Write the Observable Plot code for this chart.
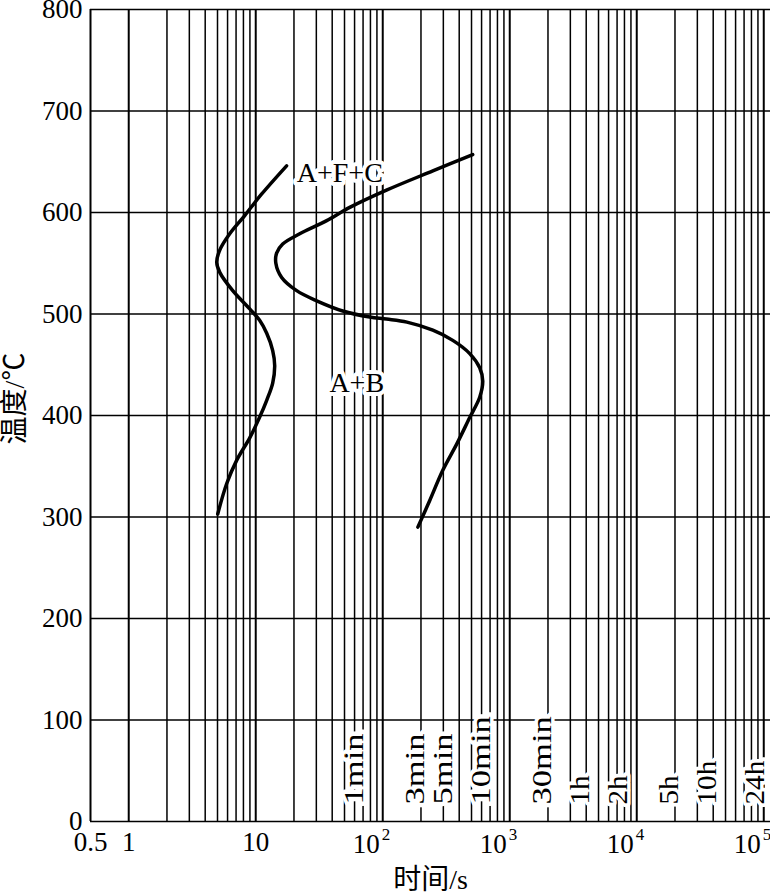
<!DOCTYPE html>
<html><head><meta charset="utf-8">
<script src="https://cdn.jsdelivr.net/npm/d3@7"></script>
<script src="https://cdn.jsdelivr.net/npm/@observablehq/plot@0.6"></script>
<style>
html,body{margin:0;padding:0;background:#fff;}
#chart svg{display:block;}
</style>
</head><body>
<div id="chart"></div>
<script>
// ---- data ----
const tempTicks = [0, 100, 200, 300, 400, 500, 600, 700, 800];
const plainTicks = [0.5, 1, 10];
const plainTickLabels = ["0.5", "1", "10"];
const powerTicks = [100, 1000, 10000, 100000];
const powerBase = ["10", "10", "10", "10"];
const powerExp = ["2", "3", "4", "5"];
const gridMultipliers = [1, 2, 3, 4, 5, 6, 7, 8, 9];
const gridDecades = [1, 10, 100, 1000, 10000];
const timeMarks = [60, 180, 300, 600, 1800, 3600, 7200, 18000, 36000, 86400];
const timeLabels = ["1min", "3min", "5min", "10min", "30min", "1h", "2h", "5h", "10h", "24h"];

// left curve (A+F+C start)
const pearliteTime = [17.5, 11.1, 8.19, 6.24, 5.21, 4.93, 5.21, 6.59, 8.97, 10.7, 12.2, 13.6, 14.1, 13.6, 12.2, 10.7, 8.97, 7.09, 5.91, 5.02];
const pearliteTemp = [646, 618, 597, 579, 563, 551, 541, 523, 505, 494, 481, 464, 449, 432, 415, 398, 378, 356, 333, 303];
// right curve
const finishTime = [511, 248, 107, 55.0, 36.2, 22.2, 16.3, 14.6, 14.4, 16.0, 21.0, 30.2, 48.4, 79.0, 107, 155, 248, 356, 484, 580, 613, 580, 484, 383, 297, 234, 189];
const finishTemp = [657, 641, 622, 605, 592, 579, 569, 560, 550, 536, 523, 513, 503, 497, 495, 492, 484, 474, 461, 447, 434, 418, 398, 372, 346, 316, 290];

const phaseLabels = ["A+F+C", "A+B"];
const phaseTime = [45.9, 62.4];
const phaseTemp = [639, 432];

const xTitle = "时间/s";
const yTitle = "温度/℃";

// ---- derived ----
const gridX = gridDecades.flatMap(d => gridMultipliers.map(m => m * d)).concat([100000]);
const gridMajor = gridX.filter(v => Math.abs(Math.log10(v) - Math.round(Math.log10(v))) < 1e-9);
const gridMinor = gridX.filter(v => !gridMajor.includes(v));
const idx = a => d3.range(a.length);

const chart = Plot.plot({
  width: 770,
  height: 895,
  marginLeft: 90,
  marginRight: 0,
  marginTop: 9,
  marginBottom: 74,
  x: {type: "log", domain: [0.5, 113000], axis: null},
  y: {domain: [0, 800], axis: null},
  style: {fontFamily: "'Liberation Serif', 'Noto Sans CJK SC', serif", background: "#fff", color: "#000"},
  marks: [
    Plot.ruleX(gridMinor, {x: d => d, stroke: "#000", strokeWidth: 1.5}),
    Plot.ruleX(gridMajor, {x: d => d, stroke: "#000", strokeWidth: 2}),
    Plot.ruleX([0.5], {x: d => d, stroke: "#000", strokeWidth: 2}),
    Plot.ruleY(tempTicks, {y: d => d, stroke: "#000", strokeWidth: 1.6}),
    // curves
    Plot.line(idx(pearliteTime), {x: i => pearliteTime[i], y: i => pearliteTemp[i], curve: "catmull-rom", stroke: "#000", strokeWidth: 3.5}),
    Plot.line(idx(finishTime), {x: i => finishTime[i], y: i => finishTemp[i], curve: "catmull-rom", stroke: "#000", strokeWidth: 3.5}),
    // phase labels
    Plot.text(idx(phaseLabels), {x: i => phaseTime[i], y: i => phaseTemp[i], text: i => phaseLabels[i], fontSize: 28, fill: "#000", stroke: "#fff", strokeWidth: 8, paintOrder: "stroke"}),
    // time marks
    Plot.text(idx(timeMarks), {x: i => timeMarks[i], text: i => timeLabels[i], frameAnchor: "bottom", rotate: -90, textAnchor: "start", lineAnchor: "middle", dy: -17, fontSize: 27, fill: "#000", stroke: "#fff", strokeWidth: 7, paintOrder: "stroke"}),
    // y tick labels
    Plot.text(tempTicks, {y: d => d, text: d => String(d), frameAnchor: "left", textAnchor: "end", lineAnchor: "middle", dx: -8, fontSize: 27, fill: "#000"}),
    // x tick labels
    Plot.text(idx(plainTicks), {x: i => plainTicks[i], text: i => plainTickLabels[i], frameAnchor: "bottom", textAnchor: "middle", lineAnchor: "middle", dy: 21, fontSize: 27, fill: "#000"}),
    Plot.text(idx(powerTicks), {x: i => powerTicks[i], text: i => powerBase[i], frameAnchor: "bottom", textAnchor: "end", lineAnchor: "middle", dx: -3, dy: 23, fontSize: 27, fill: "#000"}),
    Plot.text(idx(powerTicks), {x: i => powerTicks[i], text: i => powerExp[i], frameAnchor: "bottom", textAnchor: "start", lineAnchor: "middle", dx: -1, dy: 13, fontSize: 17, fill: "#000"}),
    // titles
    Plot.text([xTitle], {text: d => d, frameAnchor: "bottom", textAnchor: "middle", lineAnchor: "middle", dy: 59, fontSize: 28, fill: "#000"}),
    Plot.text([yTitle], {text: d => d, frameAnchor: "left", textAnchor: "middle", lineAnchor: "middle", rotate: -90, dx: -75, dy: -17, fontSize: 28, fill: "#000"})
  ]
});

// stretch rotated time labels along their reading direction
d3.select(chart).selectAll("text").each(function () {
  const t = this.textContent;
  if (timeLabels.includes(t)) {
    const s = t.includes("min") ? 1.28 : 1.08;
    const tr = this.getAttribute("transform") || "";
    this.setAttribute("transform", tr + ` scale(${s},1)`);
  }
});

document.getElementById("chart").appendChild(chart);
</script>
</body></html>
